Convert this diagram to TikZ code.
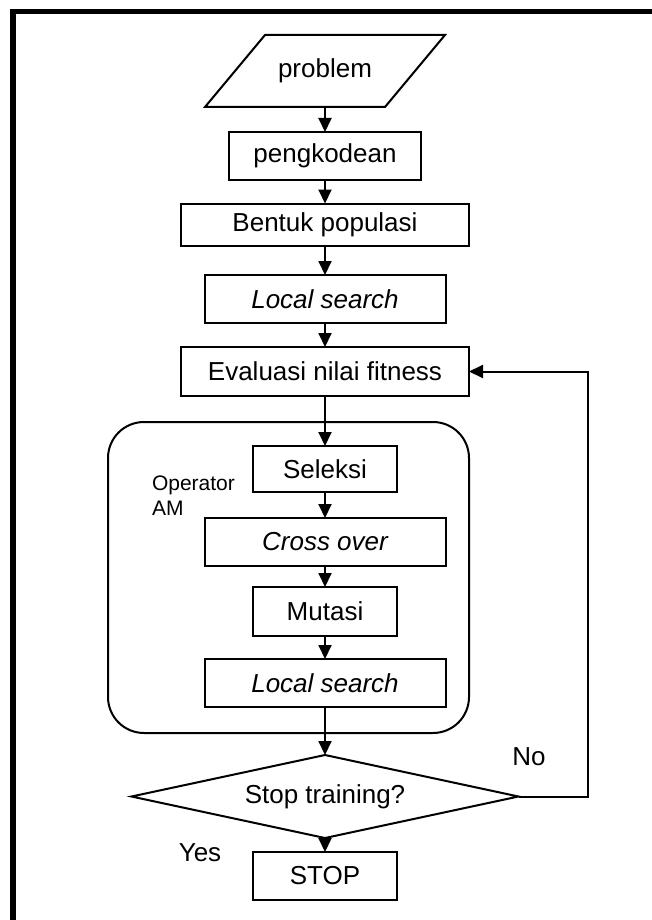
\documentclass[tikz,border=0pt]{standalone}
\usepackage{fontspec}
\setmainfont{Liberation Sans}
\usetikzlibrary{arrows.meta,calc}

\begin{document}
\begin{tikzpicture}[x=1pt,y=-1pt,
  line width=2pt,
  every node/.style={inner sep=0pt,outer sep=0pt,font=\fontsize{26}{31}\selectfont},
  box/.style={draw,rectangle,minimum height=48pt},
  narrowbox/.style={box,minimum width=144pt},
  midbox/.style={box,minimum width=241pt},
  widebox/.style={box,minimum width=288pt},
  flow/.style={-{Triangle[length=14pt,width=13pt]}},
  smalltext/.style={font=\fontsize{21}{25}\selectfont,align=left}
]
\useasboundingbox (0,0) rectangle (652,920);

% frame along the top and left edges
\draw[line width=5.5pt] (13,940) -- (13,11.5) -- (670,11.5);

% input parallelogram
\node[minimum width=180pt,minimum height=72pt] (problem) at (325,71) {problem};
\draw ($(problem.north west)+(30,0)$) -- ($(problem.north east)+(30,0)$)
   -- ($(problem.south east)+(-30,0)$) -- ($(problem.south west)+(-30,0)$) -- cycle;

% initial steps
\node[box,minimum width=192pt] (encode) at (325,156) {pengkodean};
\node[widebox,minimum height=42pt] (pop) at (325,224.5) {Bentuk populasi};
\node[midbox] (ls1) at (325,299) {\itshape Local search};
\node[widebox,minimum height=49pt] (eval) at (325,371.5) {Evaluasi nilai fitness};

% operator group
\draw[rounded corners=36pt] (108,422) rectangle (469,733);
\node[smalltext,anchor=north west] (opam) at (152,476) {Operator\\AM};
\node[narrowbox,minimum height=46pt] (sel) at (325,469) {Seleksi};
\node[midbox] (cross) at (325,542) {\itshape Cross over};
\node[narrowbox,minimum height=49pt] (mut) at (325,611.5) {Mutasi};
\node[midbox] (ls2) at (325,683) {\itshape Local search};

% decision
\node[minimum width=387pt,minimum height=83pt] (dec) at (325,796.5) {Stop training?};
\draw (dec.north) -- (dec.east) -- (dec.south) -- (dec.west) -- cycle;
\node[narrowbox] (stop) at (325,876) {STOP};
\node (yes) at (200,853) {Yes};
\node (no) at (529,757) {No};
\coordinate (back) at (588,0);

% connectors
\draw[flow] (problem.south) -- (encode.north);
\draw[flow] (encode.south) -- (pop.north);
\draw[flow] (pop.south) -- (ls1.north);
\draw[flow] (ls1.south) -- (eval.north);
\draw[flow] (eval.south) -- (sel.north);
\draw[flow] (sel.south) -- (cross.north);
\draw[flow] (cross.south) -- (mut.north);
\draw[flow] (mut.south) -- (ls2.north);
\draw[flow] (ls2.south) -- (dec.north);
\draw[flow] (dec.south) -- (stop.north);
\draw[flow] (dec.east) -- (dec.east -| back) -- (eval.east -| back) -- (eval.east);
\end{tikzpicture}
\end{document}
